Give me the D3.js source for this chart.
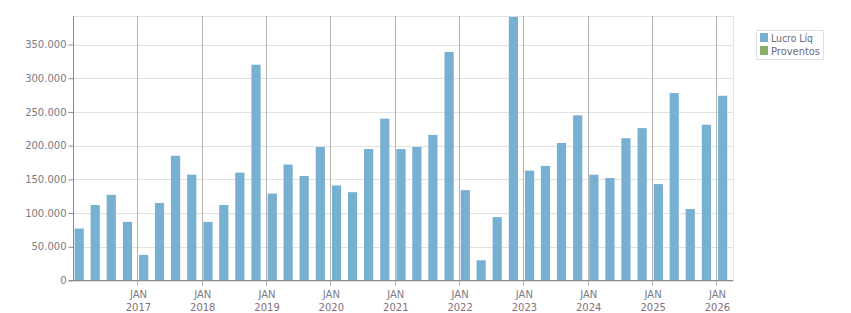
<!DOCTYPE html>
<html><head><meta charset="utf-8">
<script src="https://cdn.jsdelivr.net/npm/d3@7"></script>
<style>body{margin:0;background:#fff}svg{display:block}text{font-family:"DejaVu Sans",sans-serif}</style>
</head><body><svg id="c" width="851" height="313"></svg>
<script>
const quarters = ["2016-01","2016-04","2016-07","2016-10","2017-01","2017-04","2017-07","2017-10","2018-01","2018-04","2018-07","2018-10","2019-01","2019-04","2019-07","2019-10","2020-01","2020-04","2020-07","2020-10","2021-01","2021-04","2021-07","2021-10","2022-01","2022-04","2022-07","2022-10","2023-01","2023-04","2023-07","2023-10","2024-01","2024-04","2024-07","2024-10","2025-01","2025-04","2025-07","2025-10","2026-01"];
const lucroLiq = [77000,112000,127000,87000,38000,115000,185000,157000,87000,112000,160000,320000,129000,172000,155000,198000,141000,131000,195000,240000,195000,198000,216000,339000,134000,30000,94000,391000,163000,170000,204000,245000,157000,152000,211000,226000,143000,278000,106000,231000,274000];
const proventos = [];
const yTicks = [0,50000,100000,150000,200000,250000,300000,350000];
const yearTicks = ["2017","2018","2019","2020","2021","2022","2023","2024","2025","2026"];
const seriesNames = ["Lucro Líq","Proventos"];
const seriesColors = ["#78b0d2","#89ad6a"];

const svg = d3.select("#c");
const L=74, R=733.3, T=16, B=280.5;
const parse = d3.timeParse("%Y-%m");
const x = d3.scaleTime().domain([parse("2016-01"), parse("2026-04")]).range([L,R]);
const y = d3.scaleLinear().domain([0,392300]).range([B,T]);
const fmt = v => v===0 ? "0" : d3.format(",")(v).replace(/,/g,".");

// horizontal grid
svg.append("g").selectAll("line").data(yTicks).join("line")
  .attr("x1",L).attr("x2",R).attr("y1",d=>Math.round(y(d))+0.5).attr("y2",d=>Math.round(y(d))+0.5)
  .attr("stroke","#e0e0e0");
// top & right border
svg.append("line").attr("x1",L).attr("x2",R).attr("y1",T+0.5).attr("y2",T+0.5).attr("stroke","#e0e0e0");
svg.append("line").attr("x1",R).attr("x2",R).attr("y1",T).attr("y2",B).attr("stroke","#e0e0e0");

// bars
svg.append("g").selectAll("rect").data(quarters).join("rect")
  .attr("x",d=>x(parse(d))+0.6).attr("width",9.2)
  .attr("y",(d,i)=>y(lucroLiq[i])).attr("height",(d,i)=>B-y(lucroLiq[i]))
  .attr("fill",seriesColors[0]);

// vertical year grid
const yearDates = yearTicks.map(t=>parse(t+"-01"));
svg.append("g").selectAll("line").data(yearDates).join("line")
  .attr("x1",d=>Math.round(x(d))-0.5).attr("x2",d=>Math.round(x(d))-0.5).attr("y1",T).attr("y2",B+5)
  .attr("stroke","#b4b4b4");

// axes
const yAxis = d3.axisLeft(y).tickValues(yTicks).tickFormat(fmt).tickSize(5).tickPadding(2);
const gy = svg.append("g").attr("transform",`translate(${L-0.5},0)`).call(yAxis);
gy.select(".domain").attr("stroke","#8a8a8a").attr("d",`M0,${T}V${B}`);
gy.selectAll(".tick line").attr("stroke","#8a8a8a");
gy.selectAll("text").attr("fill","#7b7b86").attr("font-size","10px").style("font-family","DejaVu Sans");

svg.append("line").attr("x1",L-5).attr("x2",R).attr("y1",B).attr("y2",B).attr("stroke","#8a8a8a");

const gx = svg.append("g");
gx.selectAll("text.m").data(yearDates).join("text").attr("class","m")
  .attr("x",d=>x(d)).attr("y",298).attr("text-anchor","middle")
  .attr("font-size","10px").attr("fill","#7b7b86").text("JAN");
gx.selectAll("text.yr").data(yearDates).join("text").attr("class","yr")
  .attr("x",d=>x(d)).attr("y",310.5).attr("text-anchor","middle")
  .attr("font-size","10px").attr("fill","#86707a").text((d,i)=>yearTicks[i]);

// legend
const lg = svg.append("g");
lg.append("rect").attr("x",756.5).attr("y",30.5).attr("width",67).attr("height",29)
  .attr("fill","#fff").attr("stroke","#e0e0e0");
const legendLens = [42,49];
seriesNames.forEach((n,i)=>{
  lg.append("rect").attr("x",760).attr("y",33+i*13).attr("width",8).attr("height",9).attr("fill",seriesColors[i]);
  lg.append("text").attr("x",771).attr("y",42+i*13).attr("font-size","10.5px").attr("fill","#6a6a80")
    .attr("textLength",legendLens[i]).attr("lengthAdjust","spacingAndGlyphs").text(n);
});
</script></body></html>
